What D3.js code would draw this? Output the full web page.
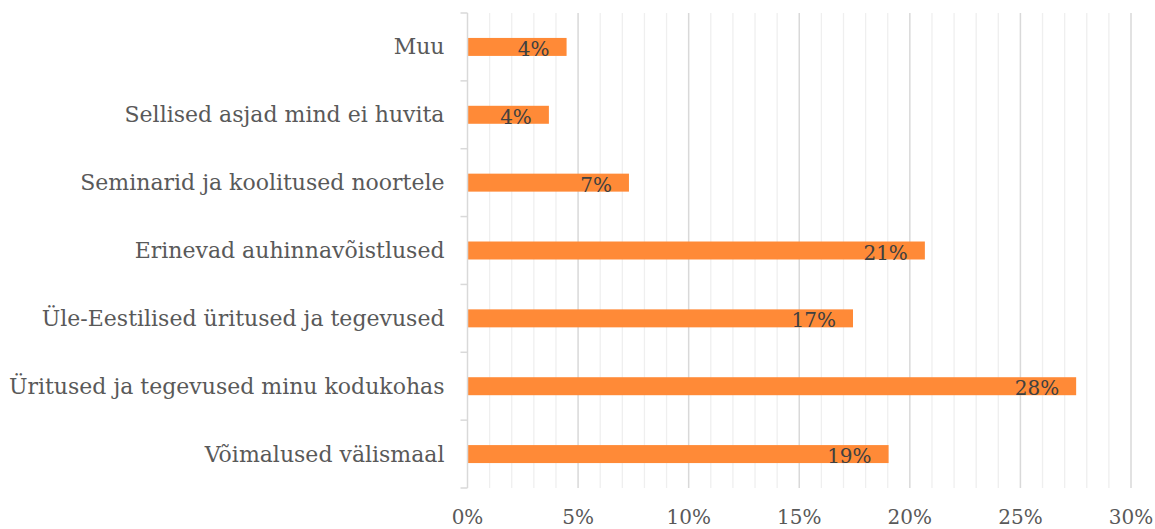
<!DOCTYPE html>
<html>
<head>
<meta charset="utf-8">
<script src="https://cdn.jsdelivr.net/npm/d3@7"></script>
<style>
  html, body { margin: 0; padding: 0; background: #fff; }
  svg text { font-family: "DejaVu Serif", "Liberation Serif", serif; }
</style>
</head>
<body>
<div id="chart"></div>
<script>
// categories top to bottom, as shown
const categories = [
    'Muu',
    'Sellised asjad mind ei huvita',
    'Seminarid ja koolitused noortele',
    'Erinevad auhinnavõistlused',
    'Üle-Eestilised üritused ja tegevused',
    'Üritused ja tegevused minu kodukohas',
    'Võimalused välismaal'
];
const shares = [4.48, 3.68, 7.3, 20.68, 17.43, 27.52, 19.04];
const xTicks = [0, 5, 10, 15, 20, 25, 30];

const width = 1155, height = 529;
const margin = { top: 13, right: 24, bottom: 41, left: 467.5 };

const svg = d3.select('#chart')
    .append('svg')
    .attr('width', width)
    .attr('height', height);

const x = d3.scaleLinear()
    .domain([0, 30])
    .range([margin.left, width - margin.right]);

const y = d3.scaleBand()
    .domain(categories)
    .range([margin.top, height - margin.bottom])
    .padding(0);

const barH = y.bandwidth() * 0.265;

// minor gridlines every 1%
svg.append('g')
    .selectAll('line')
    .data(d3.range(1, 31).filter(v => v % 5 !== 0))
    .enter()
    .append('line')
    .attr('x1', d => x(d)).attr('x2', d => x(d))
    .attr('y1', margin.top).attr('y2', height - margin.bottom)
    .attr('stroke', '#efefef')
    .attr('stroke-width', 1.3);

// major gridlines every 5%
svg.append('g')
    .selectAll('line')
    .data(xTicks.slice(1))
    .enter()
    .append('line')
    .attr('x1', d => x(d)).attr('x2', d => x(d))
    .attr('y1', margin.top).attr('y2', height - margin.bottom)
    .attr('stroke', '#d9d9d9')
    .attr('stroke-width', 1.5);

// bars
svg.append('g')
    .selectAll('rect')
    .data(shares)
    .enter()
    .append('rect')
    .attr('x', x(0))
    .attr('y', (d, i) => y(categories[i]) + y.bandwidth() / 2 - barH / 2)
    .attr('width', d => x(d) - x(0))
    .attr('height', barH)
    .attr('fill', '#ff8a37');

// category axis line and ticks
const yAxis = svg.append('g');
yAxis.append('line')
    .attr('x1', x(0)).attr('x2', x(0))
    .attr('y1', margin.top).attr('y2', height - margin.bottom)
    .attr('stroke', '#d9d9d9')
    .attr('stroke-width', 1.5);
yAxis.selectAll('.cat-tick')
    .data(categories.map(c => y(c)).concat([y.range()[1]]))
    .enter()
    .append('line')
    .attr('class', 'cat-tick')
    .attr('x1', x(0) - 7).attr('x2', x(0))
    .attr('y1', d => d).attr('y2', d => d)
    .attr('stroke', '#d9d9d9')
    .attr('stroke-width', 1.5);

// category labels
yAxis.selectAll('.cat-label')
    .data(categories)
    .enter()
    .append('text')
    .attr('class', 'cat-label')
    .attr('x', x(0) - 23)
    .attr('y', d => y(d) + y.bandwidth() / 2 + 7.5)
    .attr('text-anchor', 'end')
    .attr('font-size', '22px')
    .attr('fill', '#595959')
    .text(d => d);

// x tick labels
svg.append('g')
    .selectAll('text')
    .data(xTicks)
    .enter()
    .append('text')
    .attr('x', d => x(d))
    .attr('y', 524)
    .attr('text-anchor', 'middle')
    .attr('font-size', '20px')
    .attr('fill', '#595959')
    .text(d => d + '%');

// data labels, inside end
svg.append('g')
    .selectAll('text')
    .data(shares)
    .enter()
    .append('text')
    .attr('x', d => x(d) - 17)
    .attr('y', (d, i) => y(categories[i]) + y.bandwidth() / 2 + 9)
    .attr('text-anchor', 'end')
    .attr('font-size', '20px')
    .attr('fill', '#404040')
    .text(d => Math.round(d) + '%');
</script>
</body>
</html>
